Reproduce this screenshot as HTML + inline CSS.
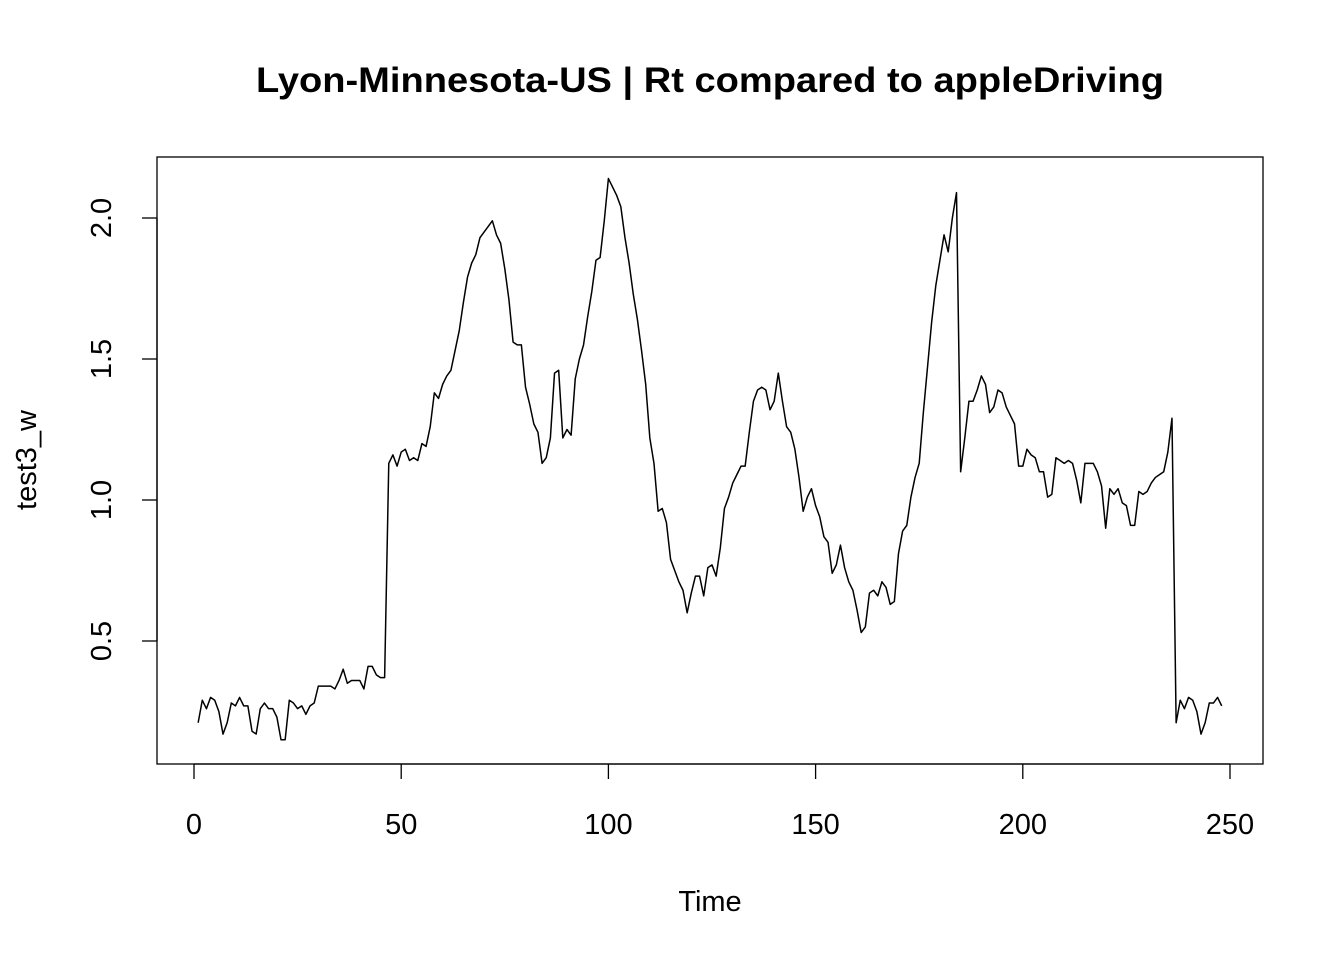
<!DOCTYPE html>
<html><head><meta charset="utf-8"><style>
html,body{margin:0;padding:0;background:#fff;}
svg text{font-family:"Liberation Sans",Arial,sans-serif;fill:#000;}
</style></head><body>
<svg id="chart" width="1344" height="960" xmlns="http://www.w3.org/2000/svg">
<rect width="1344" height="960" fill="#fff"/>
<text x="256" y="92" font-size="35" font-weight="bold" textLength="908" lengthAdjust="spacingAndGlyphs">Lyon-Minnesota-US | Rt compared to appleDriving</text>
<rect x="157" y="157" width="1106" height="607" fill="none" stroke="#000" stroke-width="1.3"/>
<g id="xaxis"></g>
<g id="yaxis"></g>
<text x="710" y="911" text-anchor="middle" font-size="29">Time</text>
<text x="36" y="460" text-anchor="middle" font-size="29" transform="rotate(-90 36 460)">test3_w</text>
<path id="series" fill="none" stroke="#000" stroke-width="1.5" stroke-linejoin="round"/>
</svg>
<script>
const xTicks = [0, 50, 100, 150, 200, 250];
const yTicks = [0.5, 1.0, 1.5, 2.0];
const yTickLabels = ["0.5", "1.0", "1.5", "2.0"];
const values = [
0.21,0.29,0.26,0.30,0.29,0.25,0.17,0.21,0.28,0.27,0.30,0.27,0.27,0.18,0.17,0.26,0.28,0.26,0.26,0.23,
0.15,0.15,0.29,0.28,0.26,0.27,0.24,0.27,0.28,0.34,0.34,0.34,0.34,0.33,0.36,0.40,0.35,0.36,0.36,0.36,
0.33,0.41,0.41,0.38,0.37,0.37,
1.13,1.16,1.12,1.17,1.18,1.14,1.15,1.14,1.20,1.19,1.26,1.38,1.36,1.41,1.44,1.46,1.53,1.60,1.70,1.79,
1.84,1.87,1.93,1.95,1.97,1.99,1.94,1.91,1.82,1.71,1.56,1.55,1.55,1.40,1.34,1.27,1.24,1.13,1.15,1.22,
1.45,1.46,1.22,1.25,1.23,1.43,1.50,1.55,1.65,1.74,1.85,1.86,1.99,2.14,2.11,2.08,2.04,1.93,1.84,1.73,
1.64,1.53,1.41,
1.22,1.13,0.96,0.97,0.92,0.79,0.75,0.71,0.68,0.60,0.67,0.73,0.73,0.66,0.76,0.77,0.73,0.83,0.97,1.01,
1.06,1.09,1.12,1.12,1.24,1.35,1.39,1.40,1.39,1.32,1.35,1.45,1.35,1.26,1.24,1.18,1.08,0.96,1.01,1.04,
0.98,0.94,0.87,0.85,0.74,0.77,0.84,0.76,0.71,0.68,0.61,0.53,0.55,0.67,0.68,0.66,0.71,0.69,0.63,0.64,
0.81,0.89,0.91,1.01,1.08,1.13,1.31,1.47,1.63,1.76,1.85,1.94,1.88,2.00,2.09,1.10,1.22,1.35,1.35,1.39,
1.44,1.41,1.31,1.33,1.39,1.38,1.33,1.30,1.27,1.12,1.12,1.18,1.16,1.15,1.10,1.10,1.01,1.02,
1.15,1.14,1.13,1.14,1.13,1.07,0.99,1.13,1.13,1.13,1.10,1.05,0.90,1.04,1.02,1.04,0.99,0.98,0.91,0.91,
1.03,1.02,1.03,1.06,1.08,1.09,1.10,1.17,1.29,
0.21,0.29,0.26,0.30,0.29,0.25,0.17,0.21,0.28,0.28,0.30,0.27
];
function xs(t){ return 194 + (t/250)*(1230-194); }
function ys(v){ return 641 - (v-0.5)/1.5*(641-218); }
const NS="http://www.w3.org/2000/svg";
const xa=document.getElementById('xaxis');
const xl=document.createElementNS(NS,'line');
xl.setAttribute('x1',xs(xTicks[0]));xl.setAttribute('x2',xs(xTicks[xTicks.length-1]));
xl.setAttribute('y1',764);xl.setAttribute('y2',764);xl.setAttribute('stroke','#000');xl.setAttribute('stroke-width','1.3');


xa.appendChild(xl);
xTicks.forEach(t=>{
  const l=document.createElementNS(NS,'line');
  l.setAttribute('x1',xs(t));l.setAttribute('x2',xs(t));l.setAttribute('y1',764);l.setAttribute('y2',779);
  l.setAttribute('stroke','#000');l.setAttribute('stroke-width','1.3');
  
  
  xa.appendChild(l);
  const tx=document.createElementNS(NS,'text');
  tx.setAttribute('x',xs(t));tx.setAttribute('y',834);tx.setAttribute('text-anchor','middle');tx.setAttribute('font-size','29');
  tx.textContent=String(t);
  
  
  xa.appendChild(tx);
});
const ya=document.getElementById('yaxis');
const yl=document.createElementNS(NS,'line');
yl.setAttribute('x1',157);yl.setAttribute('x2',157);
yl.setAttribute('y1',ys(yTicks[0]));yl.setAttribute('y2',ys(yTicks[yTicks.length-1]));
yl.setAttribute('stroke','#000');yl.setAttribute('stroke-width','1.3');


ya.appendChild(yl);
yTicks.forEach((v,i)=>{
  const y=ys(v);
  const l=document.createElementNS(NS,'line');
  l.setAttribute('x1',142);l.setAttribute('x2',157);l.setAttribute('y1',y);l.setAttribute('y2',y);
  l.setAttribute('stroke','#000');l.setAttribute('stroke-width','1.3');
  
  
  ya.appendChild(l);
  const tx=document.createElementNS(NS,'text');
  tx.setAttribute('x',111);tx.setAttribute('y',y);tx.setAttribute('text-anchor','middle');tx.setAttribute('font-size','29');
  tx.setAttribute('transform','rotate(-90 111 '+y+')');
  tx.textContent=yTickLabels[i];
  
  
  ya.appendChild(tx);
});
let d='';
values.forEach((v,i)=>{ d+=(i?'L':'M')+xs(i+1).toFixed(2)+' '+ys(v).toFixed(2); });
document.getElementById('series').setAttribute('d',d);
</script>
</body></html>
